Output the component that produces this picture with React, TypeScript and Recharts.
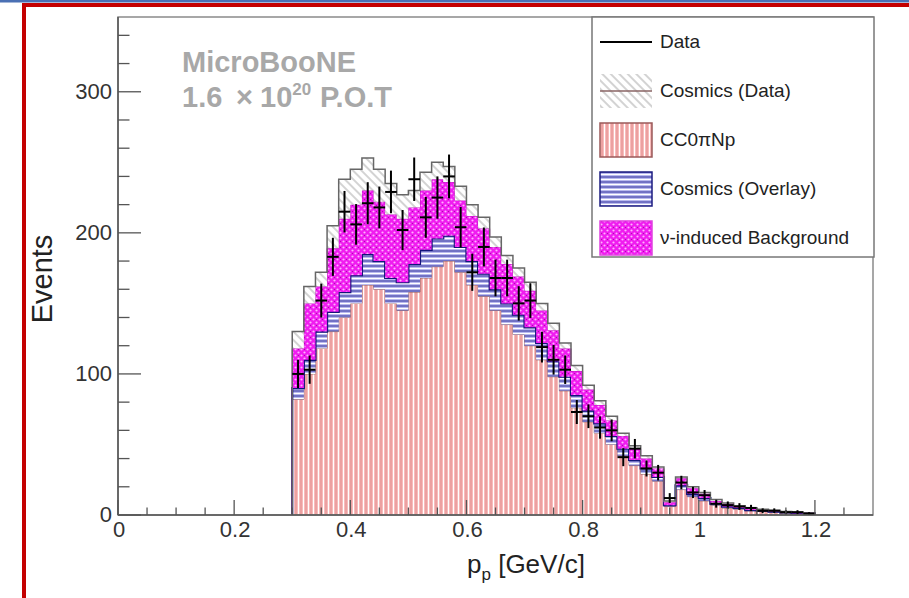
import React from 'react';
import { ComposedChart, Area, Scatter, ErrorBar, XAxis, YAxis, ReferenceArea, Legend } from 'recharts';

// ---- data ----
const binEdges = [
  0.30, 0.32, 0.34, 0.36, 0.38, 0.40, 0.42, 0.44, 0.46, 0.48, 0.50, 0.52, 0.54, 0.56, 0.58, 0.60,
  0.62, 0.64, 0.66, 0.68, 0.70, 0.72, 0.74, 0.76, 0.78, 0.80, 0.82, 0.84, 0.86, 0.88, 0.90,
  0.92, 0.94, 0.96, 0.98, 1.00, 1.02, 1.04, 1.06, 1.08, 1.10, 1.12, 1.14, 1.16, 1.18, 1.20,
];
const cc0piNp = [82, 100, 118, 130, 140, 150, 163, 160, 150, 145, 158, 168, 176, 180, 172, 163, 155, 145, 135, 128, 120, 110, 98, 88, 76, 66, 58, 50, 42, 35, 29, 24, 6, 18, 13, 10, 7, 5, 4, 3, 2.5, 2, 1.5, 1, 0.8];
const cosmicsOverlay = [8, 10, 12, 14, 18, 20, 22, 20, 18, 20, 20, 20, 20, 18, 18, 17, 16, 15, 15, 14, 13, 12, 11, 10, 9, 8, 7, 6, 5, 4, 4, 3, 1, 3, 2, 2, 1, 1, 1, 0.5, 0.5, 0.4, 0.3, 0.3, 0.2];
const nuBackground = [28, 40, 32, 45, 52, 50, 45, 42, 45, 45, 40, 42, 42, 38, 33, 32, 32, 30, 28, 27, 26, 23, 22, 20, 17, 15, 13, 11, 9, 8, 7, 6, 2, 5, 4, 3, 2, 2, 1, 1, 0.8, 0.6, 0.5, 0.4, 0.3];
const cosmicsData = [12, 12, 10, 16, 28, 25, 23, 23, 22, 17, 12, 13, 12, 11, 10, 8, 8, 7, 6, 6, 6, 5, 5, 4, 4, 3, 3, 3, 2, 2, 2, 1, 1, 1, 1, 1, 1, 0.5, 0.5, 0.5, 0.3, 0.3, 0.2, 0.2, 0.2];
const dataCounts = [100, 103, 152, 183, 215, 206, 221, 218, 229, 202, 238, 211, 225, 240, 204, 172, 190, 168, 168, 150, 152, 119, 110, 103, 73, 70, 62, 60, 41, 47, 33, 30, 12, 23, 16, 14, 8, 7, 6, 5, 3, 3, 2, 2, 1];
const dataErrors = [10, 10, 12, 13.5, 14.7, 14.4, 14.9, 14.8, 15.1, 14.2, 15.4, 14.5, 15, 15.5, 14.3, 13.1, 13.8, 13, 13, 12.2, 12.3, 10.9, 10.5, 10.1, 8.5, 8.4, 7.9, 7.7, 6.4, 6.9, 5.7, 5.5, 3.5, 4.8, 4, 3.7, 2.8, 2.6, 2.4, 2.2, 1.7, 1.7, 1.4, 1.4, 1];

const xTicks = [0, 0.05, 0.1, 0.15, 0.2, 0.25, 0.3, 0.35, 0.4, 0.45, 0.5, 0.55, 0.6, 0.65, 0.7, 0.75, 0.8, 0.85, 0.9, 0.95, 1, 1.05, 1.1, 1.15, 1.2, 1.25];
const xMajorTicks = [0, 0.2, 0.4, 0.6, 0.8, 1, 1.2];
const xMajorLabels = ['0', '0.2', '0.4', '0.6', '0.8', '1', '1.2'];
const yTicks = [0, 20, 40, 60, 80, 100, 120, 140, 160, 180, 200, 220, 240, 260, 280, 300, 320, 340];
const yMajorTicks = [0, 100, 200, 300];
const yMajorLabels = ['0', '100', '200', '300'];
const xDomain = [0, 1.3];
const yDomain = [0, 353];

const legendLabels = ['Data', 'Cosmics (Data)', 'CC0\u03c0Np', 'Cosmics (Overlay)', '\u03bd-induced Background'];

// ---- derived tables ----
const zeroRow = { cc: 0, ov: 0, nu: 0, cd: 0 };
const histRows = [
  { x: binEdges[0], ...zeroRow },
  ...cc0piNp.map((v, i) => ({ x: binEdges[i], cc: v, ov: cosmicsOverlay[i], nu: nuBackground[i], cd: cosmicsData[i] })),
  { x: binEdges[binEdges.length - 1], ...zeroRow },
];
const dataPoints = dataCounts.map((v, i) => ({
  x: (binEdges[i] + binEdges[i + 1]) / 2,
  y: v,
  ey: dataErrors[i],
  ex: (binEdges[i + 1] - binEdges[i]) / 2,
}));

const FONT = '"Liberation Sans", Arial, Helvetica, sans-serif';
const AXIS = '#555';
const TICK_FONT = 22;

const findMajor = (list: number[], v: number) => list.findIndex((m) => Math.abs(m - v) < 1e-6);

const XTick = (props: any) => {
  const { x, y, payload } = props;
  const idx = findMajor(xMajorTicks, payload.value);
  const major = idx >= 0;
  return (
    <g>
      <line x1={x} x2={x} y1={y} y2={y - (major ? 15 : 7.5)} stroke={AXIS} strokeWidth={1.3} />
      {major && (
        <text x={x + 1} y={y + 22} textAnchor="middle" fontSize={TICK_FONT} fill="#333" fontFamily={FONT}>
          {xMajorLabels[idx]}
        </text>
      )}
    </g>
  );
};

const YTick = (props: any) => {
  const { x, y, payload } = props;
  const idx = findMajor(yMajorTicks, payload.value);
  const major = idx >= 0;
  return (
    <g>
      <line x1={x} x2={x + (major ? 23 : 11.5)} y1={y} y2={y} stroke={AXIS} strokeWidth={1.3} />
      {major && (
        <text x={x - 6} y={y + 7} textAnchor="end" fontSize={TICK_FONT} fill="#333" fontFamily={FONT}>
          {yMajorLabels[idx]}
        </text>
      )}
    </g>
  );
};

const legendSymbols = [
  { kind: 'line' },
  { kind: 'hatch', fill: 'url(#pCD)', stroke: '#8a6464' },
  { kind: 'box', fill: 'url(#pCC)', stroke: '#9a5a5a' },
  { kind: 'box', fill: 'url(#pOV)', stroke: '#1c1c80' },
  { kind: 'box', fill: 'url(#pNU)', stroke: '#e040e0' },
];

const LegendBox = () => (
  <svg width={285} height={243} style={{ display: 'block' }}>
    <rect x={1} y={1} width={282} height={240} fill="#fff" stroke="#777" strokeWidth={1.5} />
    {legendLabels.map((label, i) => {
      const cy = 26 + i * 49;
      const s = legendSymbols[i];
      return (
        <g key={label}>
          {s.kind === 'line' && <line x1={9} x2={61} y1={cy} y2={cy} stroke="#000" strokeWidth={2} />}
          {s.kind === 'hatch' && (
            <g>
              <rect x={9} y={cy - 17} width={52} height={34} fill={s.fill} />
              <line x1={9} x2={61} y1={cy} y2={cy} stroke={s.stroke} strokeWidth={1.5} />
            </g>
          )}
          {s.kind === 'box' && (
            <rect x={9} y={cy - 17} width={52} height={34} fill={s.fill} stroke={s.stroke} strokeWidth={1.5} />
          )}
          <text x={69} y={cy + 6} fontSize={19} fill="#222" fontFamily={FONT}>
            {label}
          </text>
        </g>
      );
    })}
  </svg>
);

export default function App() {
  return (
    <div style={{ position: 'absolute', left: 0, top: 0, width: 909, height: 598, background: '#fff', fontFamily: FONT }}>
      <svg width={0} height={0} style={{ position: 'absolute' }}>
        <defs>
          <pattern id="pCC" width={5} height={10} patternUnits="userSpaceOnUse">
            <rect width={5} height={10} fill="#f7bcbc" />
            <line x1={1} x2={1} y1={0} y2={10} stroke="#e28686" strokeWidth={1} />
            <line x1={3.5} x2={3.5} y1={0} y2={10} stroke="#ffffff" strokeWidth={1} />
          </pattern>
          <pattern id="pOV" width={10} height={5} patternUnits="userSpaceOnUse">
            <rect width={10} height={5} fill="#b9b9ef" />
            <line x1={0} x2={10} y1={1} y2={1} stroke="#2a2a9a" strokeWidth={1} />
            <line x1={0} x2={10} y1={3.5} y2={3.5} stroke="#ffffff" strokeWidth={1} />
          </pattern>
          <pattern id="pNU" width={6} height={6} patternUnits="userSpaceOnUse">
            <rect width={6} height={6} fill="#f01cf0" />
            <circle cx={1.5} cy={1.5} r={1.1} fill="#ffb0ff" />
            <circle cx={4.5} cy={4.5} r={1.1} fill="#ffb0ff" />
            <circle cx={4.5} cy={1.5} r={0.6} fill="#a010a0" />
          </pattern>
          <pattern id="pCD" width={6} height={6} patternUnits="userSpaceOnUse" patternTransform="rotate(-45)">
            <rect width={6} height={6} fill="#ffffff" />
            <line x1={3} x2={3} y1={0} y2={6} stroke="#a8a8a8" strokeWidth={1} />
          </pattern>
        </defs>
      </svg>
      <ComposedChart width={909} height={598} data={histRows} margin={{ top: 17, right: 36, left: 58, bottom: 43 }}>
        <Area type="stepAfter" dataKey="cc" stackId="mc" fill="url(#pCC)" fillOpacity={1} stroke="#9a6a6a" strokeWidth={1} isAnimationActive={false} dot={false} activeDot={false} />
        <Area type="stepAfter" dataKey="ov" stackId="mc" fill="url(#pOV)" fillOpacity={1} stroke="#14147a" strokeWidth={2.2} isAnimationActive={false} dot={false} activeDot={false} />
        <Area type="stepAfter" dataKey="nu" stackId="mc" fill="url(#pNU)" fillOpacity={1} stroke="#c010c0" strokeWidth={1} isAnimationActive={false} dot={false} activeDot={false} />
        <Area type="stepAfter" dataKey="cd" stackId="mc" fill="url(#pCD)" fillOpacity={1} stroke="#666" strokeWidth={1.5} isAnimationActive={false} dot={false} activeDot={false} />
        <Scatter data={dataPoints} dataKey="y" isAnimationActive={false} shape={() => <g />}>
          <ErrorBar dataKey="ey" direction="y" width={0} stroke="#000" strokeWidth={2} isAnimationActive={false} />
          <ErrorBar dataKey="ex" direction="x" width={0} stroke="#000" strokeWidth={2} isAnimationActive={false} />
        </Scatter>
        <ReferenceArea x1={xDomain[0]} x2={xDomain[1]} y1={yDomain[0]} y2={yDomain[1]} fill="none" fillOpacity={0} stroke="#8a8a8a" strokeWidth={1.5} ifOverflow="visible" />
        <XAxis
          type="number"
          dataKey="x"
          domain={xDomain}
          ticks={xTicks}
          interval={0}
          allowDataOverflow
          height={40}
          tickSize={0}
          tickMargin={0}
          tickLine={false}
          axisLine={{ stroke: AXIS, strokeWidth: 1.5 }}
          tick={(p: any) => <XTick {...p} />}
        />
        <YAxis
          type="number"
          domain={yDomain}
          ticks={yTicks}
          interval={0}
          allowDataOverflow
          width={60}
          tickSize={0}
          tickMargin={0}
          tickLine={false}
          axisLine={{ stroke: AXIS, strokeWidth: 1.5 }}
          tick={(p: any) => <YTick {...p} />}
        />
        <Legend
          layout="vertical"
          align="center"
          verticalAlign="middle"
          content={() => <LegendBox />}
          wrapperStyle={{ left: 591, top: 16, width: 285, height: 243 }}
        />
      </ComposedChart>
      <svg width={909} height={598} style={{ position: 'absolute', left: 0, top: 0, pointerEvents: 'none' }}>
        <rect x={0} y={0} width={909} height={2.5} fill="#4a70b4" />
        <path d="M24 598 L24 5 L909 5" fill="none" stroke="#c40000" strokeWidth={4} />
        <text x={182} y={72} fontSize={29} fontWeight="bold" fill="#a8a8a8" fontFamily={FONT}>
          MicroBooNE
        </text>
        <text y={107} fontSize={29} fontWeight="bold" fill="#a8a8a8" fontFamily={FONT}>
          <tspan x={182}>1.6</tspan>
          <tspan x={236}>{'\u00d7'}</tspan>
          <tspan x={260}>10</tspan>
          <tspan dy={-12} fontSize={17}>20</tspan>
          <tspan x={320} dy={12}>P.O.T</tspan>
        </text>
        <text x={52} y={279} fontSize={29} fill="#222" fontFamily={FONT} textAnchor="middle" transform="rotate(-90 52 279)">
          Events
        </text>
        <text x={467} y={573} fontSize={26} fill="#222" fontFamily={FONT}>
          p
          <tspan dy={7} fontSize={17}>p</tspan>
          <tspan dy={-7}> [GeV/c]</tspan>
        </text>
      </svg>
    </div>
  );
}
